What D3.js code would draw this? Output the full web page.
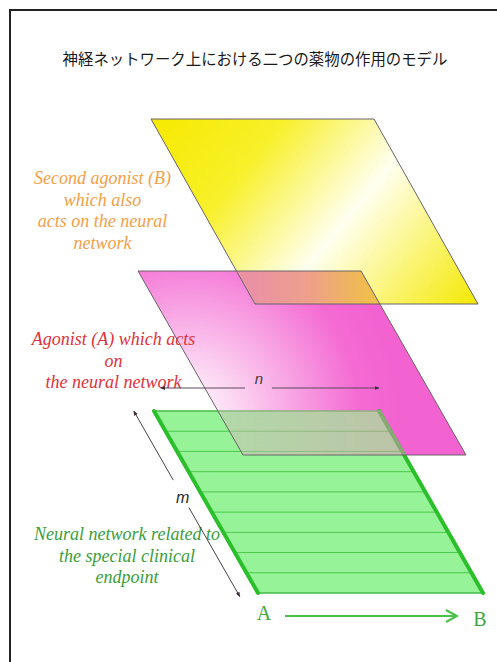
<!DOCTYPE html>
<html>
<head>
<meta charset="utf-8">
<script src="https://cdn.jsdelivr.net/npm/d3@7"></script>
<style>
  body { margin: 0; background: #fff; }
  svg { display: block; }
</style>
</head>
<body>
<script>
// chart content
const title = '神経ネットワーク上における二つの薬物の作用のモデル'
const layerNames = ['agonistB', 'agonistA', 'network']
const labelB = ['Second agonist (B)', 'which also', 'acts on the neural', 'network']
const labelA = ['Agonist (A) which acts', 'on', 'the neural network']
const labelNet = ['Neural network related to', 'the special clinical', 'endpoint']
const stripeRows = [1, 2, 3, 4, 5, 6, 7, 8]
const stripeTotal = 9
const dimLabels = ['n', 'm']
const pathLabels = ['A', 'B']

const width = 497, height = 662

// layout of the three skewed planes (top-left corner, width, depth, skew)
const planes = {
  agonistB: { x: 151, y: 119, w: 223, h: 185, skew: 104 },
  agonistA: { x: 138, y: 271, w: 223, h: 184, skew: 105 },
  network: { x: 154, y: 411, w: 225, h: 182, skew: 104 }
}

function makePlane(p) {
  const xu = d3.scaleLinear().domain([0, 1]).range([p.x, p.x + p.w])
  const sk = d3.scaleLinear().domain([0, 1]).range([0, p.skew])
  const yv = d3.scaleLinear().domain([0, 1]).range([p.y, p.y + p.h])
  const f = (u, v) => [xu(u) + sk(v), yv(v)]
  f.vAt = y => yv.invert(y)
  return f
}

const P = {}
layerNames.forEach(k => { P[k] = makePlane(planes[k]) })
const quad = f => [f(0, 0), f(1, 0), f(1, 1), f(0, 1)]
const closed = d3.line().curve(d3.curveLinearClosed)
const open = d3.line()

const svg = d3.select('body')
  .append('svg')
  .attr('width', width)
  .attr('height', height)

const defs = svg.append('defs')

// yellow plane: yellow corners with a pale band through the middle
const gB = defs.append('linearGradient')
  .attr('id', 'gradB')
  .attr('gradientUnits', 'userSpaceOnUse')
  .attr('x1', 192).attr('y1', 69).attr('x2', 478).attr('y2', 304)
gB.selectAll('stop')
  .data([[0, '#f6ea00'], [0.28, '#f8f02a'], [0.58, '#fffff0'], [0.8, '#faf470'], [1, '#f4e800']])
  .enter().append('stop')
  .attr('offset', d => d[0])
  .attr('stop-color', d => d[1])

// pink plane: whitish glow at lower left
const gA = defs.append('radialGradient')
  .attr('id', 'gradA')
  .attr('gradientUnits', 'userSpaceOnUse')
  .attr('cx', 188).attr('cy', 415).attr('r', 215)
gA.selectAll('stop')
  .data([[0, '#fff6fd'], [0.15, '#fde4f6'], [0.8, '#f46ad3'], [1, '#f262d0']])
  .enter().append('stop')
  .attr('offset', d => d[0])
  .attr('stop-color', d => d[1])

const gBA = defs.append('linearGradient')
  .attr('id', 'gradBA')
  .attr('gradientUnits', 'userSpaceOnUse')
  .attr('x1', 255).attr('y1', 0).attr('x2', 365).attr('y2', 0)
gBA.selectAll('stop')
  .data([[0, '#ea92a4'], [0.5, '#eea08a'], [1, '#efbc50']])
  .enter().append('stop')
  .attr('offset', d => d[0])
  .attr('stop-color', d => d[1])

const gAN = defs.append('linearGradient')
  .attr('id', 'gradAN')
  .attr('gradientUnits', 'userSpaceOnUse')
  .attr('x1', 220).attr('y1', 0).attr('x2', 470).attr('y2', 0)
gAN.selectAll('stop')
  .data([[0, '#cdbeb9'], [1, '#eb82b9']])
  .enter().append('stop')
  .attr('offset', d => d[0])
  .attr('stop-color', d => d[1])

defs.append('marker')
  .attr('id', 'headDark')
  .attr('viewBox', '0 0 10 10')
  .attr('refX', 9).attr('refY', 5)
  .attr('markerWidth', 5).attr('markerHeight', 5)
  .attr('orient', 'auto')
  .append('path')
  .attr('d', 'M0,1L10,5L0,9Z')
  .attr('fill', '#3a2a3a')

defs.append('marker')
  .attr('id', 'headGreen')
  .attr('markerUnits', 'userSpaceOnUse')
  .attr('viewBox', '0 0 14 14')
  .attr('refX', 12).attr('refY', 7)
  .attr('markerWidth', 14).attr('markerHeight', 14)
  .attr('orient', 'auto')
  .append('path')
  .attr('d', 'M1,1L12,7L1,13')
  .attr('fill', 'none')
  .attr('stroke', '#48c248')
  .attr('stroke-width', 2)

// frame
svg.append('path')
  .attr('d', `M10,${height}V10H${width}`)
  .attr('fill', 'none')
  .attr('stroke', '#222')
  .attr('stroke-width', 2)

svg.append('text')
  .attr('x', 255)
  .attr('y', 65)
  .attr('text-anchor', 'middle')
  .style('font-family', '"Noto Sans CJK JP", sans-serif')
  .style('font-size', '15.4px')
  .attr('fill', '#1a1a1a')
  .text(title)

// plane fills
svg.append('path')
  .attr('d', closed(quad(P.agonistA)))
  .attr('fill', 'url(#gradA)')

svg.append('path')
  .attr('d', closed(quad(P.agonistB)))
  .attr('fill', 'url(#gradB)')

// yellow / pink overlap
{
  const yTop = planes.agonistA.y, yBot = planes.agonistB.y + planes.agonistB.h
  const pts = [
    P.agonistB(0, P.agonistB.vAt(yTop)),
    P.agonistA(1, P.agonistA.vAt(yTop)),
    P.agonistA(1, P.agonistA.vAt(yBot)),
    P.agonistB(0, P.agonistB.vAt(yBot))
  ]
  svg.append('path').attr('d', closed(pts)).attr('fill', 'url(#gradBA)')
}

// neural network plane
const net = svg.append('g')
net.append('path')
  .attr('d', closed(quad(P.network)))
  .attr('fill', '#97f397')

net.selectAll('.stripe')
  .data(stripeRows)
  .enter().append('path')
  .attr('class', 'stripe')
  .attr('d', r => open([P.network(0, r / stripeTotal), P.network(1, r / stripeTotal)]))
  .attr('stroke', '#4cc74c')
  .attr('stroke-width', 1)

net.selectAll('.rim')
  .data([0, 1])
  .enter().append('path')
  .attr('class', 'rim')
  .attr('d', v => open([P.network(0, v), P.network(1, v)]))
  .attr('stroke', '#44bb44')
  .attr('stroke-width', 1.5)

net.selectAll('.side')
  .data([0, 1])
  .enter().append('path')
  .attr('class', 'side')
  .attr('d', u => open([P.network(u, 0), P.network(u, 1)]))
  .attr('stroke', '#2cbf2c')
  .attr('stroke-width', 4)
  .attr('stroke-linecap', 'round')

// pink seen over the green plane
{
  const yTop = planes.network.y - 1, yBot = planes.agonistA.y + planes.agonistA.h
  const pts = [
    P.agonistA(0, P.agonistA.vAt(yTop)),
    P.network(1.01, P.network.vAt(yTop)),
    P.network(1.01, P.network.vAt(yBot)),
    P.agonistA(0, P.agonistA.vAt(yBot))
  ]
  svg.append('path').attr('d', closed(pts))
    .attr('fill', 'url(#gradAN)')
    .attr('opacity', 0.5)
}

// outlines
svg.selectAll('.outline')
  .data(['agonistA', 'agonistB'])
  .enter().append('path')
  .attr('class', 'outline')
  .attr('d', k => closed(quad(P[k])))
  .attr('fill', 'none')
  .attr('stroke', '#6a626a')
  .attr('stroke-width', 1)

// labels
function label(lines, x, y0, color) {
  svg.append('g')
    .selectAll('text')
    .data(lines)
    .enter().append('text')
    .attr('x', x)
    .attr('y', (d, i) => y0 + i * 21.6)
    .attr('text-anchor', 'middle')
    .style('font-family', '"Liberation Serif", "Times New Roman", serif')
    .style('font-style', 'italic')
    .style('font-size', '18px')
    .attr('fill', color)
    .text(d => d)
}
label(labelB, 102.5, 184, '#f3a048')
label(labelA, 113.5, 345, '#e0323c')
label(labelNet, 127, 540, '#3a9e3a')

// n dimension arrow (across the plane)
const nY = planes.network.y - 23
const nL = P.network(0.03, 0)[0], nR = P.network(1, 0)[0]
const nMid = d3.scaleLinear().domain([0, 1]).range([nL, nR])(0.45)
svg.selectAll('.narrow')
  .data([[nMid - 14, nL], [nMid + 13, nR]])
  .enter().append('path')
  .attr('class', 'narrow')
  .attr('d', d => open([[d[0], nY], [d[1], nY]]))
  .attr('stroke', '#5a4a5a')
  .attr('stroke-width', 1)
  .attr('marker-end', 'url(#headDark)')
svg.append('text')
  .attr('x', nMid)
  .attr('y', nY - 4)
  .attr('text-anchor', 'middle')
  .style('font-family', '"Liberation Sans", Arial, sans-serif')
  .style('font-style', 'italic')
  .style('font-size', '15px')
  .attr('fill', '#3a3a3a')
  .text(dimLabels[0])

// m dimension arrow (along the depth)
const mU = -0.09
svg.selectAll('.marrow')
  .data([[0.38, 0], [0.53, 1.02]])
  .enter().append('path')
  .attr('class', 'marrow')
  .attr('d', d => open([P.network(mU, d[0]), P.network(mU, d[1])]))
  .attr('stroke', '#444')
  .attr('stroke-width', 1)
  .attr('marker-end', 'url(#headDark)')
const mPos = P.network(mU, 0.47)
svg.append('text')
  .attr('x', mPos[0])
  .attr('y', mPos[1] + 6)
  .attr('text-anchor', 'middle')
  .style('font-family', '"Liberation Sans", Arial, sans-serif')
  .style('font-style', 'italic')
  .style('font-size', '16px')
  .attr('fill', '#2a2a2a')
  .text(dimLabels[1])

// A -> B
const aPos = P.network(0, 1), bPos = P.network(1, 1)
svg.append('path')
  .attr('d', open([[aPos[0] + 27, aPos[1] + 23], [bPos[0] - 26, aPos[1] + 23]]))
  .attr('stroke', '#48c248')
  .attr('stroke-width', 2)
  .attr('marker-end', 'url(#headGreen)')
svg.selectAll('.ab')
  .data(pathLabels)
  .enter().append('text')
  .attr('class', 'ab')
  .attr('x', (d, i) => i ? bPos[0] - 3 : aPos[0] + 6)
  .attr('y', (d, i) => i ? bPos[1] + 33 : aPos[1] + 27)
  .attr('text-anchor', 'middle')
  .style('font-family', '"Liberation Serif", "Times New Roman", serif')
  .style('font-size', '20px')
  .attr('fill', '#3fa83f')
  .text(d => d)
</script>
</body>
</html>
